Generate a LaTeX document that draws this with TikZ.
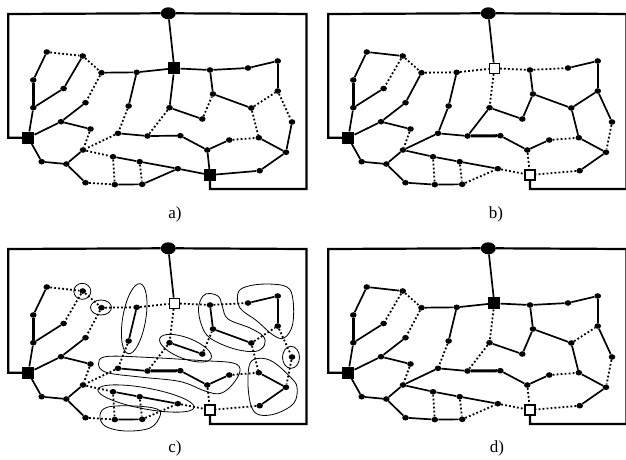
\documentclass[tikz,border=0pt]{standalone}
\usepackage{fontspec}
\setmainfont{Liberation Serif}
\usetikzlibrary{shapes.geometric}
\tikzset{
  dotn/.style={ellipse,fill=black,inner sep=0pt,minimum width=6.6pt,minimum height=5.6pt},
  src/.style={ellipse,fill=black,inner sep=0pt,minimum width=15pt,minimum height=12pt},
  blk/.style={rectangle,fill=black,inner sep=0pt,minimum size=12pt},
  wht/.style={rectangle,fill=white,draw=black,line width=1.3pt,inner sep=0pt,minimum size=10pt},
  sol/.style={line width=1.7pt},
  thk/.style={line width=3pt},
  dotl/.style={line width=1.8pt,dash pattern=on 1.8pt off 2.2pt},
  frm/.style={line width=2.2pt},
  clus/.style={line width=0.8pt},
  lbl/.style={font=\fontsize{17}{19}\selectfont,inner sep=0pt}
}
\newcommand\mygraph[5]{%
\begin{scope}[shift={(#2,#3)}]
\node[src] (#1S) at (168.3,13.3) {};
\node[blk] (#1A) at (28.3,137.7) {};
\node[#4] (#1B) at (174.3,68.3) {};
\node[#5] (#1C) at (210,175) {};
\foreach \n/\x/\y in {1/46.8/52, 2/82.7/56, 3/33.3/80, 4/101.5/72.7, 5/136.7/72.3,
  6/63.6/88.5, 7/33.3/107.7, 8/85.5/102.7, 9/128.6/106, 10/61/121.7, 11/90.5/129,
  12/118/133.3, 13/147.5/136, 14/180.3/135.7, 15/169.5/107.7, 16/202.3/119,
  17/210/70, 18/248/68, 19/277.7/61, 20/213/94, 21/251.3/108, 22/277.7/91,
  23/292/122, 24/229.2/140, 25/258.8/137.7, 26/207.3/150, 27/286/152.3,
  28/259.7/170.7, 29/83/150, 30/41.7/161.7, 31/66.3/164, 32/113/156.7,
  33/139.7/161.7, 34/177.8/168.7, 35/85.5/182.7, 36/114.8/184.6, 37/142.2/184.3}
  {\node[dotn] (#1\n) at (\x,\y) {};}
\coordinate (#1f1) at (8.3,137.7);
\coordinate (#1f2) at (8.3,14);
\coordinate (#1f3) at (306.5,14);
\coordinate (#1f4) at (306.5,189);
\coordinate (#1f5) at (210,189);
\draw[frm] (#1A.west) -- (#1f1) -- (#1f2) -- (#1S.west);
\draw[frm] (#1S.east) -- (#1f3) -- (#1f4) -- (#1f5) -- (#1C.south);
\draw[sol] (#1S) -- (#1B);
\draw[thk] (#17) -- (#13);
\foreach \u/\v in {A/7, 3/1, 6/7, 8/10, 10/A, 10/11, 5/9, 12/13, 14/26, 26/24, 15/16,
  17/20, 20/21, 25/27, 27/28, 29/31, 30/31, A/30, 31/35, 32/33, 33/34, 36/37, 18/19, 19/22}
  {\draw[sol] (#1\u) -- (#1\v);}
\end{scope}}
\begin{document}
\begin{tikzpicture}[x=1pt,y=-1pt]
\useasboundingbox (0,0) rectangle (626,459);
% panel a
\mygraph{a}{0}{0}{blk}{blk}
\foreach \u/\v in {2/6, 4/5, 5/B, B/17, 17/18, 13/14, 26/C, B/15, 23/27, 28/C, 34/C, 37/34}
  {\draw[sol] (a\u) -- (a\v);}
\foreach \u/\v in {1/2, 2/4, 4/8, 11/29, 9/12, 12/29, 15/13, 16/20, 21/22, 22/23, 21/25,
  24/25, 29/32, 32/36, 33/37, 35/36}
  {\draw[dotl] (a\u) -- (a\v);}
\node[lbl] (la) at (175,214) {a)};
% panel b
\mygraph{b}{320}{0}{wht}{wht}
\foreach \u/\v in {1/2, 4/8, 9/12, 12/29, 15/13, 16/20, 21/22, 22/23, 21/25, 29/32, 35/36}
  {\draw[sol] (b\u) -- (b\v);}
\draw[thk] (b13) -- (b14);
\foreach \u/\v in {2/6, 2/4, 4/5, 5/B, B/17, 17/18, 11/29, 26/C, B/15, 24/25, 23/27, 28/C,
  34/C, 32/36, 33/37, 37/34}
  {\draw[dotl] (b\u) -- (b\v);}
\node[lbl] (lb) at (496,214) {b)};
% panel c
\mygraph{c}{0}{235}{wht}{wht}
\draw[thk] (c13) -- (c14);
\foreach \u/\v in {1/2, 2/6, 2/4, 4/5, 5/B, B/17, 17/18, 4/8, 11/29, 9/12, 12/29, 26/C,
  B/15, 15/13, 16/20, 21/22, 22/23, 21/25, 24/25, 23/27, 28/C, 29/32, 34/C, 32/36, 33/37,
  35/36, 37/34}
  {\draw[dotl] (c\u) -- (c\v);}
\begin{scope}[shift={(0,235)}]
\draw[clus] (82.3,56.3) ellipse (8.5 and 8);
\draw[clus] (101,72.5) ellipse (10.5 and 7.5);
\draw[clus,rotate around={80.4:(134.2,83.7)}] (134.2,83.7) ellipse (35.5 and 11.5);
\draw[clus,rotate around={-20.8:(185.5,113.2)}] (185.5,113.2) ellipse (27.5 and 10.5);
\draw[clus] plot[smooth cycle,tension=0.6] coordinates {(210,58.5) (219,62) (222.5,72)
  (228,84) (250,93) (263,101) (264.5,110) (255,116.5) (233,113.5) (210,103) (201.5,90)
  (198.5,73) (203,61)};
\draw[clus] plot[smooth cycle,tension=0.6] coordinates {(238,58) (246.7,51.5) (266.7,49)
  (287,52) (293,65) (292.5,90) (284,103) (273,100) (257,86) (240,73)};
\draw[clus] (291,122.3) ellipse (8.5 and 11);
\draw[clus] plot[smooth cycle,tension=0.6] coordinates {(98.5,129) (106.7,121.5)
  (150,122.5) (200,125.5) (233,128) (240,136) (232,150) (220,158.5) (205,156)
  (180,146.5) (140,142) (106.7,137.5)};
\draw[clus] plot[smooth cycle,tension=0.6] coordinates {(250,128.3) (260,123.3)
  (273.3,127) (290,141.7) (297,152) (294,168) (277,178.3) (260,180) (251.5,172) (248,150)};
\draw[clus,rotate around={-10.5:(146,163.5)}] (146,163.5) ellipse (49 and 10.5);
\draw[clus] plot[smooth cycle,tension=0.6] coordinates {(100,180) (108,172) (135,171)
  (157,174) (160,181) (150,193) (125,196) (105,191)};
\end{scope}
\node[lbl] (lc) at (175,448) {c)};
% panel d
\mygraph{d}{320}{235}{blk}{wht}
\foreach \u/\v in {1/2, 4/5, 5/B, B/17, 17/18, 12/29, 16/20, 22/23, 21/25, 29/32, 35/36}
  {\draw[sol] (d\u) -- (d\v);}
\draw[thk] (d13) -- (d14);
\foreach \u/\v in {2/6, 2/4, 4/8, 11/29, 9/12, 26/C, B/15, 15/13, 21/22, 24/25, 23/27,
  28/C, 34/C, 32/36, 33/37, 37/34}
  {\draw[dotl] (d\u) -- (d\v);}
\node[lbl] (ld) at (497,448) {d)};
\end{tikzpicture}
\end{document}
